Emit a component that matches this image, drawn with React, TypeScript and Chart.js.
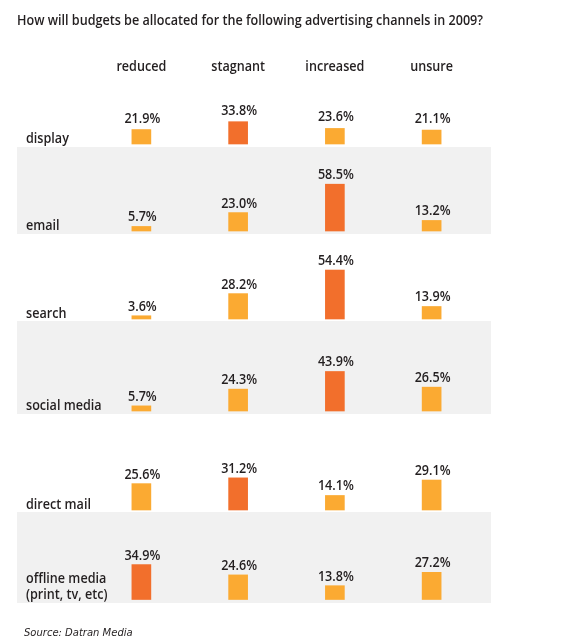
import { useEffect, useRef } from 'react';
import { Chart, registerables } from 'chart.js';

Chart.register(...registerables);

const TITLE = 'How will budgets be allocated for the following advertising channels in 2009?';
const SOURCE = 'Source: Datran Media';

// Column categories and row channels (multi-line labels as arrays)
const outcomes = ['reduced', 'stagnant', 'increased', 'unsure'];
const channels = [
  ['display'],
  ['email'],
  ['search'],
  ['social media'],
  ['direct mail'],
  ['offline media', '(print, tv, etc)'],
];

// Share of respondents (%) per outcome, one value per channel
const reduced = [21.9, 5.7, 3.6, 5.7, 25.6, 34.9];
const stagnant = [33.8, 23.0, 28.2, 24.3, 31.2, 24.6];
const increased = [23.6, 58.5, 54.4, 43.9, 14.1, 13.8];
const unsure = [21.1, 13.2, 13.9, 26.5, 29.1, 27.2];

// Layout: canvas size, row band edges, bar baseline inset, vertical scale and label gap per row
const W = 579;
const H = 643;
const ROW_EDGES = [60, 147, 234, 321, 414, 512, 603];
const ROW_BASE_GAP = [3, 3, 2, 3, 2, 3.5];
const ROW_PX_PER_PCT = [0.66, 0.8, 0.9, 0.9, 1.03, 1.0];
const ROW_LABEL_GAP = [7, 5, 5, 5, 5, 5];
const BAND_LEFT = 17;
const BAND_RIGHT = 491;

const LIGHT = '#FBAA32';
const DARK = '#F26F2C';
const BAND = '#F1F1F1';
const INK = '#231F20';
const FONT = '600 14px "Open Sans", "Noto Sans", sans-serif';
const CONDENSE = 0.9;

const rowValues = (r: number) => [reduced[r], stagnant[r], increased[r], unsure[r]];

// Draws text slightly narrowed horizontally for a condensed look
function condensedText(ctx: CanvasRenderingContext2D, text: string, x: number, y: number) {
  const w = ctx.measureText(text).width;
  ctx.fillText(text, x, y, w * CONDENSE);
}

const tablePlugin = {
  id: 'budgetTable',
  beforeDatasetsDraw(chart: any) {
    const ctx = chart.ctx as CanvasRenderingContext2D;
    ctx.save();
    ctx.fillStyle = BAND;
    channels.forEach((_, r) => {
      if (r % 2 === 1) {
        const s = chart.scales['row' + r];
        ctx.fillRect(BAND_LEFT, s.top, BAND_RIGHT - BAND_LEFT, s.bottom - s.top);
      }
    });
    ctx.restore();
  },
  afterDatasetsDraw(chart: any) {
    const ctx = chart.ctx as CanvasRenderingContext2D;
    ctx.save();
    ctx.fillStyle = INK;
    ctx.textBaseline = 'alphabetic';
    ctx.font = FONT;

    // title
    ctx.textAlign = 'left';
    condensedText(ctx, TITLE, 17, 25);

    // column headers from the category axis
    const xs = chart.scales.x;
    ctx.textAlign = 'center';
    outcomes.forEach((o, i) => {
      condensedText(ctx, o, xs.getPixelForValue(i), 71);
    });

    // row labels and value labels
    channels.forEach((lines, r) => {
      const ys = chart.scales['row' + r];
      const base = ys.getPixelForValue(0);
      ctx.textAlign = 'left';
      lines.forEach((line, k) => {
        condensedText(ctx, line, 26, base - 1 - (lines.length - 1 - k) * 16);
      });
      const meta = chart.getDatasetMeta(r);
      const vals = rowValues(r);
      ctx.textAlign = 'center';
      meta.data.forEach((bar: any, i: number) => {
        condensedText(ctx, vals[i].toFixed(1) + '%', bar.x + 1, bar.y - ROW_LABEL_GAP[r]);
      });
    });

    // source line
    ctx.textAlign = 'left';
    ctx.font = 'italic 10px "DejaVu Sans", Verdana, sans-serif';
    ctx.fillText(SOURCE, 24, 636);
    ctx.restore();
  },
};

export default function App() {
  const ref = useRef<HTMLCanvasElement | null>(null);

  useEffect(() => {
    if (!ref.current) return;
    const scales: any = {
      x: { type: 'category', labels: outcomes, display: false, offset: true },
    };
    channels.forEach((_, r) => {
      const h = ROW_EDGES[r + 1] - ROW_EDGES[r];
      const gap = ROW_BASE_GAP[r];
      const k = ROW_PX_PER_PCT[r];
      scales['row' + r] = {
        type: 'linear',
        position: 'left',
        stack: 'rows',
        stackWeight: h,
        weight: channels.length - r,
        display: false,
        min: -gap / k,
        max: (h - gap) / k,
      };
    });
    const datasets = channels.map((lines, r) => {
      const vals = rowValues(r);
      const top = Math.max(...vals);
      return {
        label: lines.join(' '),
        data: vals,
        yAxisID: 'row' + r,
        xAxisID: 'x',
        backgroundColor: vals.map((v) => (v === top ? DARK : LIGHT)),
        borderWidth: 0,
        barThickness: 19,
        grouped: false,
      };
    });
    const chart = new Chart(ref.current, {
      type: 'bar',
      data: { labels: outcomes, datasets },
      options: {
        responsive: false,
        animation: false,
        devicePixelRatio: 1,
        layout: { padding: { left: 93, right: W - 480, top: ROW_EDGES[0], bottom: H - ROW_EDGES[6] } },
        scales,
        plugins: { legend: { display: false }, tooltip: { enabled: false }, title: { display: false } },
      },
      plugins: [tablePlugin],
    } as any);
    return () => chart.destroy();
  }, []);

  return (
    <div style={{ position: 'absolute', left: 0, top: 0, width: W, height: H, background: '#fff' }}>
      <canvas ref={ref} width={W} height={H} style={{ display: 'block' }} />
    </div>
  );
}
